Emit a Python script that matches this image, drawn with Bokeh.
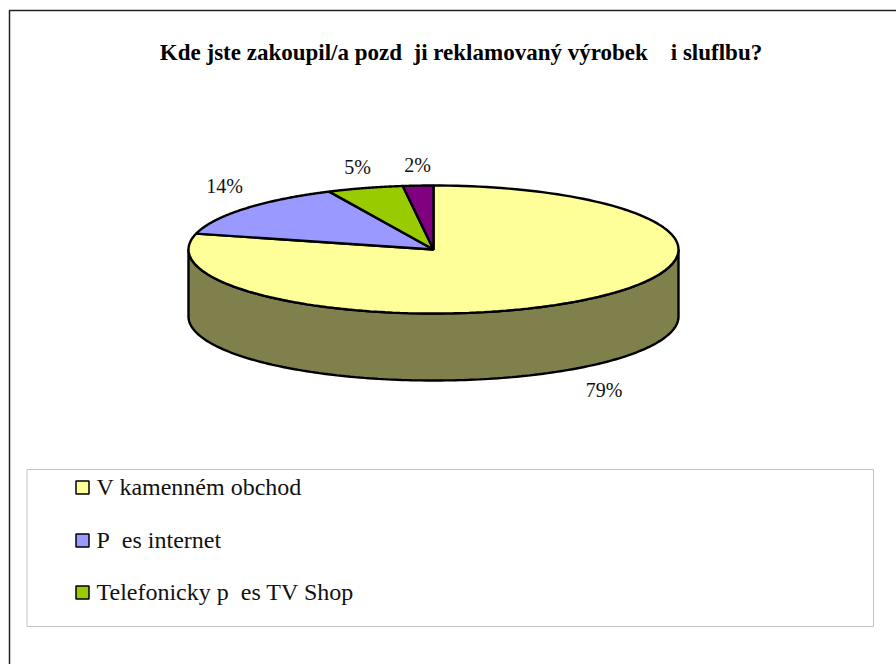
from math import pi

import numpy as np
from bokeh.core.properties import value
from bokeh.embed import file_html
from bokeh.models import Range1d
from bokeh.plotting import figure
from bokeh.resources import INLINE

NB = "\u00a0"
TITLE = f"Kde jste zakoupil/a pozd{NB}{NB}ji reklamovaný výrobek{NB}{NB}{NB}{NB}i sluflbu?"
CATEGORIES = ["V kamenném obchod", f"P{NB}{NB}es internet", f"Telefonicky p{NB}{NB}es TV Shop", ""]
SHARES = [79, 14, 5, 2]
SLICE_COLORS = ["#FFFF99", "#9999FF", "#99CC00", "#800080"]
SIDE_COLOR = "#80804D"
LEGEND_ENTRIES = CATEGORIES[:3]
FONT = "Liberation Serif"

# Pie geometry in page pixels
CX, CY, RX, RY, DEPTH = 433, 249, 245, 64, 67

p = figure(width=896, height=664, output_backend="svg", toolbar_location=None,
           x_range=Range1d(0, 896), y_range=Range1d(664, 0),
           min_border=0, outline_line_color=None)
p.axis.visible = False
p.grid.visible = False
p.background_fill_color = "white"
p.border_fill_color = "white"

# Chart frame: only its left and top edges fall inside the page
p.line([9, 9, 910], [680, 10, 10], line_color="#222222", line_width=1.5)


def rim(start, stop, n=160):
    """Points on the top ellipse, with angles measured clockwise from 12 o'clock."""
    a = np.linspace(start, stop, n)
    return CX + RX * np.sin(a), CY - RY * np.cos(a)


# Visible side wall: the front half of the ellipse, pushed down by the depth
xs, ys = rim(pi / 2, 3 * pi / 2)
p.patch(np.r_[xs, xs[::-1]], np.r_[ys, ys[::-1] + DEPTH],
        fill_color=SIDE_COLOR, line_color="black", line_width=2.4)

# Top face, one slice per share
edges = np.r_[0, np.cumsum(SHARES)] / sum(SHARES) * 2 * pi
for start, stop, color in zip(edges[:-1], edges[1:], SLICE_COLORS):
    xs, ys = rim(start, stop)
    p.patch(np.r_[CX, xs], np.r_[CY, ys], fill_color=color, line_color="black", line_width=2.4)

# Percentage labels outside the pie
label_x = [603.5, 224, 357, 417]
label_y = [389, 185, 166, 164]
p.text(label_x, label_y, text=[f"{s}%" for s in SHARES], text_align="center",
       text_baseline="middle", text_font=value(FONT), text_font_size="20px", text_color="#111111")

# Title
p.text([460.5], [52], text=[TITLE], text_align="center", text_baseline="middle",
       text_font=value(FONT), text_font_style="bold", text_font_size="23px", text_color="black")

# Legend box with swatches and labels
p.quad(left=[26.5], right=[873], top=[469], bottom=[626], fill_color="white",
       line_color="#C4C4C4", line_width=1)
swatch_y = [487, 540, 592]
legend_text_y = [486, 539, 591]
p.scatter([82] * 3, swatch_y, marker="square", size=13, fill_color=SLICE_COLORS[:3],
          line_color="black", line_width=1.5)
p.text([96] * 3, legend_text_y, text=LEGEND_ENTRIES, text_baseline="middle",
       text_font=value(FONT), text_font_size="24px", text_color="#111111")

open("out.html", "w").write(file_html(p, INLINE))
